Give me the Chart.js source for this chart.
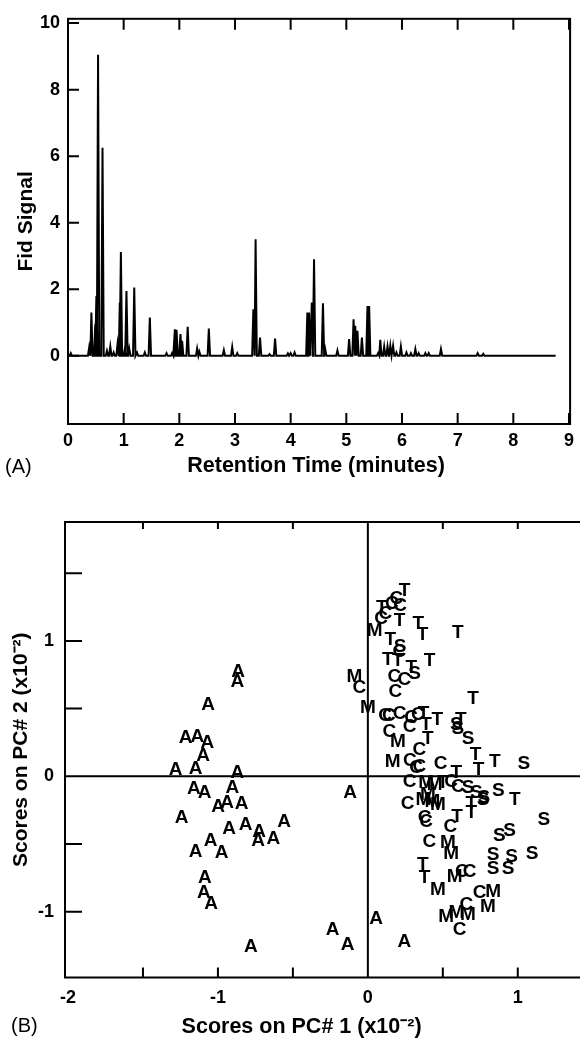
<!DOCTYPE html>
<html>
<head>
<meta charset="utf-8">
<script src="https://cdn.jsdelivr.net/npm/chart.js@4.4.0/dist/chart.umd.min.js"></script>
<style>
  body { margin: 0; background: #fff; overflow: hidden; }
  #page { position: relative; width: 580px; height: 1041px; font-family: 'Liberation Sans', Arial, sans-serif; }
  .panel { position: absolute; left: 0; width: 580px; }
  #panelA { top: 0; height: 490px; }
  #panelB { top: 490px; height: 551px; }
  .tag { position: absolute; font-size: 20px; color: #000; line-height: 24px; }
</style>
</head>
<body>
<div id="page">
  <div class="panel" id="panelA"><canvas id="chromChart"></canvas></div>
  <div class="panel" id="panelB"><canvas id="scoresChart"></canvas></div>
  <div class="tag" style="left:5px; top:454px;">(A)</div>
  <div class="tag" style="left:11px; top:1013px;">(B)</div>
</div>
<script>
// ---- Panel A: FID chromatogram, peaks ----
const peakTimes = [0.05, 0.38, 0.42, 0.49, 0.51, 0.54, 0.62, 0.70, 0.76, 0.82, 0.89, 0.93, 0.95,
  1.02, 1.05, 1.10, 1.19, 1.24, 1.38, 1.47, 1.77, 1.87, 1.92, 1.95, 2.02, 2.05, 2.15, 2.32, 2.36,
  2.53, 2.80, 2.95, 3.04, 3.33, 3.37, 3.45, 3.62, 3.72, 3.95, 4.00, 4.07, 4.30, 4.33, 4.38, 4.42,
  4.58, 4.62, 4.84, 5.05, 5.13, 5.16, 5.20, 5.28, 5.38, 5.41, 5.57, 5.61, 5.68, 5.74, 5.79, 5.84,
  5.90, 5.98, 6.08, 6.16, 6.24, 6.30, 6.42, 6.48, 6.70, 7.36, 7.46];
const peakHeights = [0.08, 0.25, 1.3, 0.95, 1.8, 9.05, 6.25, 0.15, 0.28, 0.1, 0.35, 1.6, 3.12,
  0.2, 1.95, 0.22, 2.05, 0.1, 0.1, 1.15, 0.08, 0.08, 0.8, 0.78, 0.65, 0.45, 0.87, 0.22, 0.12,
  0.82, 0.17, 0.27, 0.08, 1.4, 3.5, 0.55, 0.05, 0.52, 0.07, 0.08, 0.1, 1.3, 1.3, 1.6, 2.9,
  1.58, 0.2, 0.16, 0.5, 1.1, 0.9, 0.75, 0.55, 1.5, 1.5, 0.08, 0.48, 0.28, 0.28, 0.3, 0.3,
  0.1, 0.28, 0.1, 0.08, 0.2, 0.08, 0.08, 0.08, 0.2, 0.08, 0.06];
const runEnd = 8.76;
const timeTicks = [0, 1, 2, 3, 4, 5, 6, 7, 8, 9];
const signalTicks = [0, 2, 4, 6, 8, 10];

// ---- Panel B: PCA scores (x10^-2), one list per sample class ----
const scoresA = [[-0.866, 0.773], [-0.871, 0.696], [-1.065, 0.528], [-1.216, 0.286], [-1.138, 0.294],
  [-1.071, 0.25], [-1.098, 0.151], [-1.283, 0.048], [-1.149, 0.053], [-0.871, 0.028],
  [-1.16, -0.095], [-1.089, -0.124], [-0.904, -0.087], [-0.998, -0.223], [-0.938, -0.193],
  [-0.842, -0.203], [-1.243, -0.309], [-0.926, -0.39], [-0.815, -0.358], [-0.726, -0.407],
  [-0.732, -0.476], [-0.63, -0.464], [-0.559, -0.333], [-1.049, -0.476], [-1.149, -0.555],
  [-0.975, -0.567], [-1.087, -0.751], [-1.094, -0.862], [-1.045, -0.941], [-0.781, -1.256],
  [-0.119, -0.124], [0.055, -1.054], [-0.235, -1.133], [-0.135, -1.244], [0.244, -1.219]];
const scoresT = [[0.244, 1.37], [0.093, 1.245], [0.211, 1.15], [0.337, 1.13], [0.365, 1.045],
  [0.6, 1.06], [0.15, 1.007], [0.133, 0.86], [0.2, 0.85], [0.289, 0.8], [0.411, 0.855],
  [0.701, 0.57], [0.372, 0.46], [0.389, 0.38], [0.464, 0.415], [0.62, 0.42], [0.4, 0.28],
  [0.718, 0.16], [0.738, 0.05], [0.846, 0.109], [0.59, 0.024], [0.5, -0.05], [0.98, -0.17],
  [0.69, -0.2], [0.69, -0.27], [0.595, -0.3], [0.367, -0.653], [0.378, -0.751]];
const scoresC = [[0.19, 1.31], [0.16, 1.275], [0.215, 1.26], [0.117, 1.2], [0.088, 1.16],
  [0.21, 0.92], [0.177, 0.737], [0.244, 0.712], [-0.057, 0.651], [0.184, 0.626],
  [0.115, 0.446], [0.14, 0.446], [0.211, 0.46], [0.289, 0.43], [0.333, 0.454],
  [0.144, 0.331], [0.278, 0.368], [0.344, 0.196], [0.28, 0.115], [0.344, 0.072],
  [0.485, 0.09], [0.322, 0.06], [0.278, -0.038], [0.556, -0.038], [0.601, -0.075],
  [0.266, -0.205], [0.378, -0.309], [0.389, -0.334], [0.55, -0.376], [0.411, -0.481],
  [0.627, -0.702], [0.679, -0.702], [0.746, -0.862], [0.657, -0.948], [0.612, -1.133]];
const scoresM = [[0.046, 1.075], [-0.09, 0.737], [0.0, 0.503], [0.2, 0.257], [0.166, 0.109],
  [0.389, -0.05], [0.445, -0.063], [0.4, -0.137], [0.37, -0.175], [0.43, -0.19], [0.467, -0.21],
  [0.534, -0.493], [0.556, -0.572], [0.579, -0.739], [0.467, -0.837], [0.835, -0.85],
  [0.801, -0.961], [0.523, -1.035], [0.59, -1.01], [0.668, -1.022]];
const scoresS = [[0.311, 0.754], [0.215, 0.955], [0.59, 0.38], [0.6, 0.35], [0.668, 0.274],
  [1.04, 0.092], [0.668, -0.087], [0.724, -0.12], [0.773, -0.161], [0.87, -0.105], [0.768, -0.173],
  [1.174, -0.321], [0.877, -0.44], [0.946, -0.4], [1.096, -0.572], [0.835, -0.579],
  [0.958, -0.596], [0.835, -0.685], [0.935, -0.685]];
const pc1Labels = [-2, -1, 0, 1];
const pc2Labels = [-1, 0, 1];
const pc1Marks = [-1.5, -1, -0.5, 0.5, 1];
const pc2Marks = [-1, -0.5, 0.5, 1, 1.5];

const FONT = "'Liberation Sans', Arial, Helvetica, sans-serif";
const PEAK_HALF_WIDTH = 0.022;

function buildTrace() {
  const pts = [{x: 0, y: 0}];
  peakTimes.forEach((t, i) => {
    pts.push({x: t - PEAK_HALF_WIDTH, y: 0});
    pts.push({x: t, y: peakHeights[i]});
    pts.push({x: t + PEAK_HALF_WIDTH, y: 0});
  });
  pts.push({x: runEnd, y: 0});
  return pts;
}

// frame with inward tick marks for the chromatogram
const chromFrame = {
  id: 'chromFrame',
  afterDraw(chart) {
    const {ctx, chartArea: a, scales: {x, y}} = chart;
    ctx.save();
    ctx.strokeStyle = '#000';
    ctx.lineWidth = 2;
    ctx.strokeRect(a.left, a.top, a.right - a.left, a.bottom - a.top);
    ctx.beginPath();
    timeTicks.forEach(v => {
      if (v <= 0) return;
      const px = x.getPixelForValue(v);
      ctx.moveTo(px, a.top); ctx.lineTo(px, a.top + 11);
      ctx.moveTo(px, a.bottom); ctx.lineTo(px, a.bottom - 11);
    });
    signalTicks.forEach(v => {
      const py = y.getPixelForValue(v);
      ctx.moveTo(a.left, py); ctx.lineTo(a.left + 11, py);
    });
    ctx.stroke();
    ctx.restore();
  }
};

new Chart(document.getElementById('chromChart'), {
  type: 'line',
  data: {
    datasets: [{
      data: buildTrace(),
      borderColor: '#000',
      borderWidth: 2,
      pointRadius: 0,
      tension: 0,
      fill: false
    }]
  },
  options: {
    responsive: true,
    maintainAspectRatio: false,
    animation: false,
    events: [],
    layout: { padding: { top: 13, right: 4, left: 0, bottom: 0 } },
    plugins: { legend: { display: false }, tooltip: { enabled: false } },
    scales: {
      x: {
        type: 'linear',
        min: 0,
        max: 9.02,
        afterBuildTicks: s => { s.ticks = timeTicks.map(v => ({value: v})); },
        afterFit: s => { s.height = 66; },
        grid: { display: false, drawTicks: false },
        border: { display: false },
        ticks: { color: '#000', font: { family: FONT, size: 18, weight: 'bold' }, padding: 6, maxRotation: 0, autoSkip: false },
        title: { display: true, text: 'Retention Time (minutes)\u00A0', color: '#000',
                 font: { family: FONT, size: 21.5, weight: 'bold' }, padding: { top: 0, bottom: 11 } }
      },
      y: {
        min: -2.05,
        max: 10.13,
        afterBuildTicks: s => { s.ticks = signalTicks.map(v => ({value: v})); },
        afterFit: s => { s.width = 68; },
        grid: { display: false, drawTicks: false },
        border: { display: false },
        ticks: { color: '#000', font: { family: FONT, size: 18, weight: 'bold' }, padding: 8 },
        title: { display: true, text: 'Fid Signal', color: '#000',
                 font: { family: FONT, size: 21, weight: 'bold' }, padding: { top: 14, bottom: 0 } }
      }
    }
  },
  plugins: [chromFrame]
});

// ---- scores plot ----
const scoreFrame = {
  id: 'scoreFrame',
  afterDraw(chart) {
    const {ctx, chartArea: a, scales: {x, y}} = chart;
    ctx.save();
    ctx.strokeStyle = '#000';
    ctx.lineWidth = 2;
    ctx.beginPath();
    // open on the right, like the figure
    ctx.moveTo(chart.width, a.top); ctx.lineTo(a.left, a.top);
    ctx.lineTo(a.left, a.bottom); ctx.lineTo(chart.width, a.bottom);
    // zero lines
    const x0 = x.getPixelForValue(0), y0 = y.getPixelForValue(0);
    ctx.moveTo(x0, a.top); ctx.lineTo(x0, a.bottom);
    ctx.moveTo(a.left, y0); ctx.lineTo(a.right, y0);
    pc1Marks.forEach(v => {
      const px = x.getPixelForValue(v);
      ctx.moveTo(px, a.top); ctx.lineTo(px, a.top + 7);
      ctx.moveTo(px, a.bottom); ctx.lineTo(px, a.bottom - 10);
    });
    pc2Marks.forEach(v => {
      const py = y.getPixelForValue(v);
      ctx.moveTo(a.left, py); ctx.lineTo(a.left + 17, py);
    });
    ctx.stroke();
    ctx.restore();
  },
  afterDatasetsDraw(chart) {
    const ctx = chart.ctx;
    ctx.save();
    ctx.fillStyle = '#000';
    ctx.font = 'bold 19px ' + FONT;
    ctx.textAlign = 'center';
    ctx.textBaseline = 'middle';
    chart.data.datasets.forEach((ds, i) => {
      chart.getDatasetMeta(i).data.forEach(pt => ctx.fillText(ds.label, pt.x, pt.y));
    });
    ctx.restore();
  }
};

const toXY = arr => arr.map(([x, y]) => ({x, y}));

new Chart(document.getElementById('scoresChart'), {
  type: 'scatter',
  data: {
    datasets: [
      { label: 'A', data: toXY(scoresA), pointRadius: 0 },
      { label: 'M', data: toXY(scoresM), pointRadius: 0 },
      { label: 'S', data: toXY(scoresS), pointRadius: 0 },
      { label: 'C', data: toXY(scoresC), pointRadius: 0 },
      { label: 'T', data: toXY(scoresT), pointRadius: 0 }
    ]
  },
  options: {
    responsive: true,
    maintainAspectRatio: false,
    animation: false,
    events: [],
    layout: { padding: { top: 32, right: 0, left: 0, bottom: 0 } },
    plugins: { legend: { display: false }, tooltip: { enabled: false } },
    scales: {
      x: {
        type: 'linear',
        min: -2.02,
        max: 1.415,
        afterBuildTicks: s => { s.ticks = pc1Labels.map(v => ({value: v})); },
        afterFit: s => { s.height = 63.5; },
        grid: { display: false, drawTicks: false },
        border: { display: false },
        ticks: { color: '#000', font: { family: FONT, size: 18, weight: 'bold' }, padding: 10,
                 maxRotation: 0, autoSkip: false, callback: v => String(v) },
        title: { display: true, text: 'Scores on PC# 1 (x10\u207B\u00B2)\u00A0\u00A0\u00A0\u00A0\u00A0\u00A0\u00A0', color: '#000',
                 font: { family: FONT, size: 21.5, weight: 'bold' }, padding: { top: 0, bottom: 1 } }
      },
      y: {
        min: -1.486,
        max: 1.878,
        afterBuildTicks: s => { s.ticks = pc2Labels.map(v => ({value: v})); },
        afterFit: s => { s.width = 65; },
        grid: { display: false, drawTicks: false },
        border: { display: false },
        ticks: { color: '#000', font: { family: FONT, size: 18, weight: 'bold' }, padding: 11,
                 callback: v => String(v) },
        title: { display: true, text: 'Scores on PC# 2 (x10\u207B\u00B2)', color: '#000',
                 font: { family: FONT, size: 21, weight: 'bold' }, padding: { top: 9, bottom: 0 } }
      }
    }
  },
  plugins: [scoreFrame]
});
</script>
</body>
</html>
